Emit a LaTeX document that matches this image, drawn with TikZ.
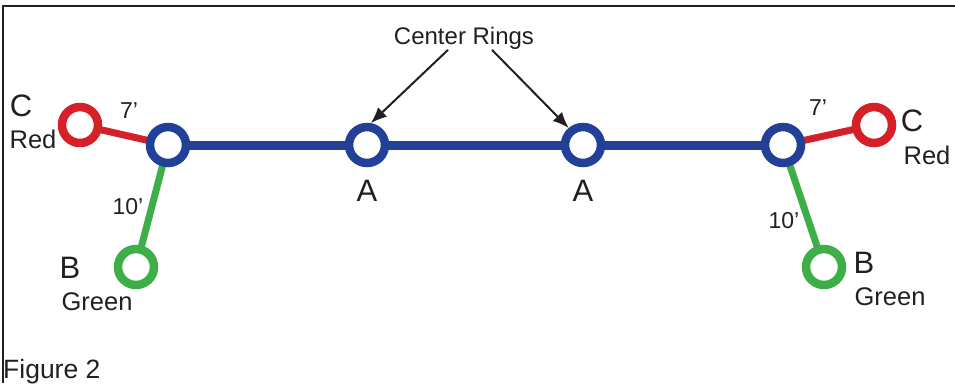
\documentclass[tikz,border=0pt]{standalone}
\usepackage{fontspec}
\setmainfont{Liberation Sans}
\usetikzlibrary{arrows.meta,backgrounds}
\definecolor{R}{RGB}{213,32,39}
\definecolor{B}{RGB}{35,64,153}
\definecolor{G}{RGB}{62,174,73}
\definecolor{K}{RGB}{35,31,32}
\tikzset{
  ring/.style={circle, draw=#1, fill=white, line width=8.5pt, minimum size=36pt, inner sep=0pt},
  bigtxt/.style={text=K, inner sep=0pt, font=\fontsize{31}{33}\selectfont},
  midtxt/.style={text=K, inner sep=0pt, font=\fontsize{25.5}{27}\selectfont},
  lentxt/.style={text=K, inner sep=0pt, font=\fontsize{23}{25}\selectfont},
}

\begin{document}
\begin{tikzpicture}[x=1pt, y=-1pt]
   	\useasboundingbox (0,0) rectangle (955,383);
   	%Marco
   	\draw[K, line width=2pt] (3,383) -- (3,6) -- (955,6);

	%Anillos azules
   	\node[ring=B] (bL) at (168,145) {};
   	\node[ring=B] (aL) at (367,145) {};
   	\node[ring=B] (aR) at (583,145) {};
   	\node[ring=B] (bR) at (783,145) {};
	%Anillos rojos y verdes
   	\node[ring=R] (cL) at (80,125) {};
   	\node[ring=G] (gL) at (136,267) {};
   	\node[ring=R] (cR) at (874,125) {};
   	\node[ring=G] (gR) at (824,267) {};

	%Lineas (debajo de los anillos)
	\begin{scope}[on background layer]
		\draw[B, line width=9pt] (bL.center) -- (aL.center) -- (aR.center) -- (bR.center);
		\draw[R, line width=7pt] (cL.center) -- (bL.center);
		\draw[G, line width=7pt] (gL.center) -- (bL.center);
		\draw[R, line width=7pt] (bR.center) -- (cR.center);
		\draw[G, line width=7pt] (bR.center) -- (gR.center);
	\end{scope}

	%Lado izquierdo
   	\node[bigtxt] (tCL) at (21,106) {C};
   	\node[midtxt] (tRedL) at (33,139) {Red};
   	\node[lentxt] (tSevL) at (129,111) {7’};
   	\node[lentxt] (tTenL) at (128,207) {10’};
   	\node[bigtxt] (tBL) at (70,268) {B};
   	\node[midtxt] (tGreenL) at (97,302) {Green};

	%Centro
   	\node[bigtxt] (tAL) at (367,191) {A};
   	\node[bigtxt] (tAR) at (583,191) {A};
   	\node[text=K, inner sep=0pt, font=\fontsize{24}{26}\selectfont] (rings) at (464,38.5) {Center Rings};
   	\draw[K, line width=2pt, -{Latex[length=16pt,width=13pt]}] ([xshift=-16pt]rings.south) -- (aL.80);
   	\draw[K, line width=2pt, -{Latex[length=16pt,width=13pt]}] ([xshift=28pt]rings.south) -- (aR.130);

	%Lado derecho
   	\node[lentxt] (tSevR) at (818,108) {7’};
   	\node[bigtxt] (tCR) at (912,121) {C};
   	\node[midtxt] (tRedR) at (927,155) {Red};
   	\node[lentxt] (tTenR) at (784,221) {10’};
   	\node[bigtxt] (tBR) at (864,263) {B};
   	\node[midtxt] (tGreenR) at (890,297) {Green};

	%Titulo
   	\node[text=K, inner sep=0pt, anchor=base west, font=\fontsize{26.5}{28}\selectfont] (fig) at (3,378) {Figure 2};
\end{tikzpicture}
\end{document}
